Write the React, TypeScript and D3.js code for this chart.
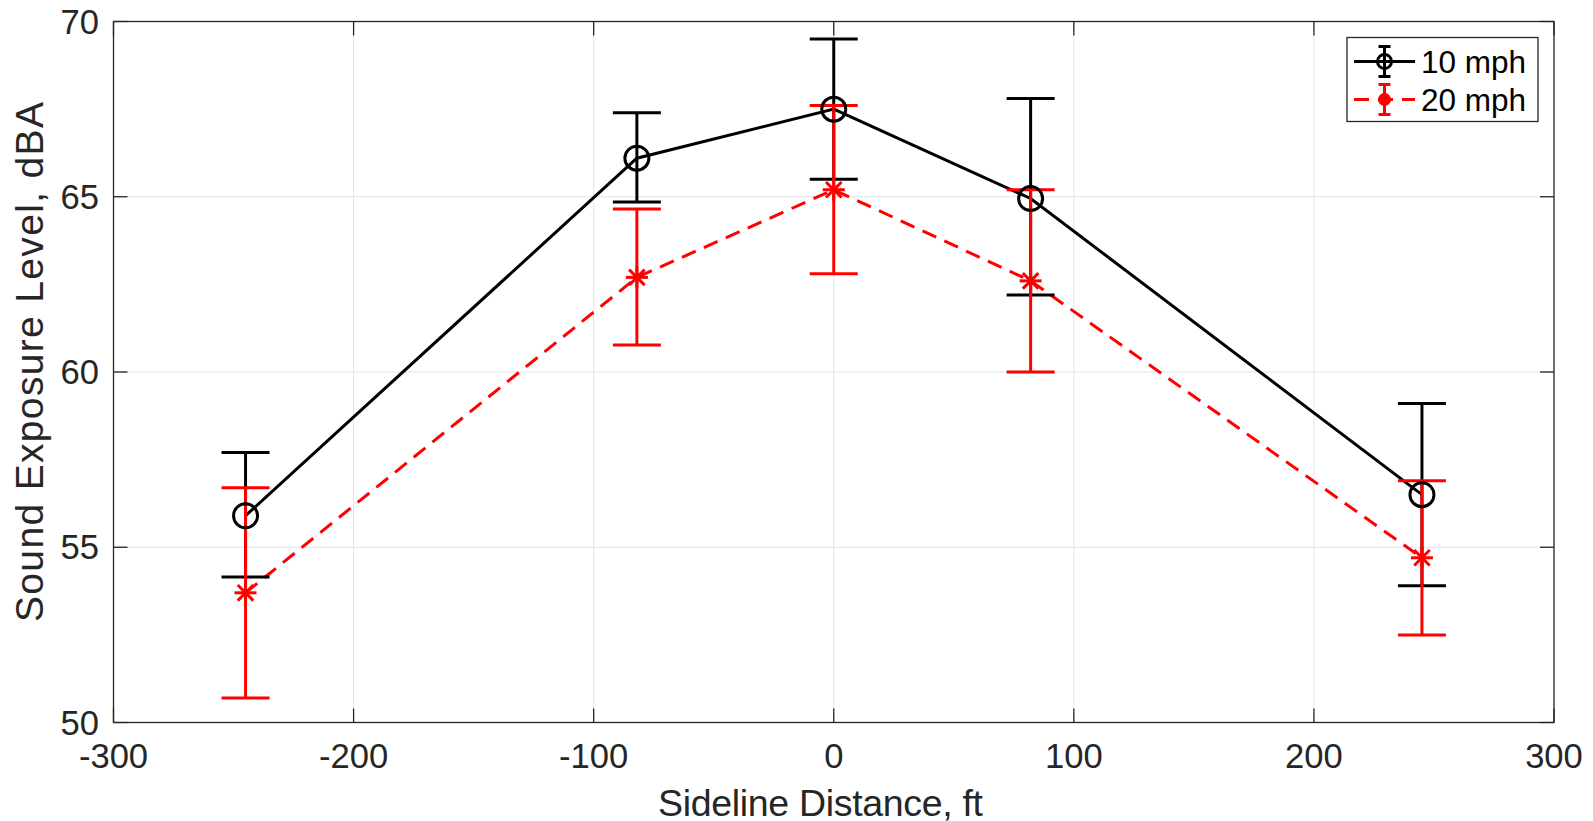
import React from "react";
import * as d3 from "d3";

const distances = [-245, -82, 0, 82, 245];
const mph10 = [55.9, 66.1, 67.5, 64.95, 56.5];
const mph10Low = [54.15, 64.85, 65.5, 62.2, 53.9];
const mph10High = [57.7, 67.4, 69.5, 67.8, 59.1];
const mph20 = [53.7, 62.7, 65.2, 62.6, 54.7];
const mph20Low = [50.7, 60.77, 62.8, 60.0, 52.5];
const mph20High = [56.7, 64.65, 67.6, 65.2, 56.9];
const xTicks = [-300, -200, -100, 0, 100, 200, 300];
const yTicks = [50, 55, 60, 65, 70];
const seriesNames = ["10 mph", "20 mph"];

const W = 1593;
const H = 821;
const L = 113.5, R = 1554, T = 21.5, B = 722.5;
const FONT = "'Liberation Sans', Arial, Helvetica, sans-serif";
const TXT = "#262626";

export default function App() {
  const x = d3.scaleLinear().domain([-300, 300]).range([L, R]);
  const y = d3.scaleLinear().domain([50, 70]).range([B, T]);
  const line = d3.line<[number, number]>().x(d => x(d[0])).y(d => y(d[1]));
  const pts10 = distances.map((d, i) => [d, mph10[i]] as [number, number]);
  const pts20 = distances.map((d, i) => [d, mph20[i]] as [number, number]);
  const cap = 24;
  const tickLen = 14;

  const errBars = (vals: number[], lo: number[], hi: number[], color: string) =>
    distances.map((d, i) => (
      <g key={i} stroke={color} strokeWidth={3} fill="none">
        <line x1={x(d)} x2={x(d)} y1={y(lo[i])} y2={y(hi[i])} />
        <line x1={x(d) - cap} x2={x(d) + cap} y1={y(lo[i])} y2={y(lo[i])} />
        <line x1={x(d) - cap} x2={x(d) + cap} y1={y(hi[i])} y2={y(hi[i])} />
      </g>
    ));

  const star = (cx: number, cy: number, s: number, key: any) => {
    const d2 = s * 0.7071;
    return (
      <g key={key} stroke="#ff0000" strokeWidth={3}>
        <line x1={cx - s} x2={cx + s} y1={cy} y2={cy} />
        <line x1={cx} x2={cx} y1={cy - s} y2={cy + s} />
        <line x1={cx - d2} x2={cx + d2} y1={cy - d2} y2={cy + d2} />
        <line x1={cx - d2} x2={cx + d2} y1={cy + d2} y2={cy - d2} />
      </g>
    );
  };

  const legX1 = 1354, legX2 = 1415, legC = 1384.5;
  const row1 = 61.5, row2 = 99.5;

  return (
    <svg width={W} height={H} style={{ position: "absolute", left: 0, top: 0, background: "#fff" }}
      fontFamily={FONT}>
      <rect x={0} y={0} width={W} height={H} fill="#fff" />
      {/* grid */}
      {xTicks.slice(1, -1).map(t => (
        <line key={"gx" + t} x1={x(t)} x2={x(t)} y1={T} y2={B} stroke="#e3e3e3" strokeWidth={1} />
      ))}
      {yTicks.slice(1, -1).map(t => (
        <line key={"gy" + t} x1={L} x2={R} y1={y(t)} y2={y(t)} stroke="#e3e3e3" strokeWidth={1} />
      ))}
      {/* ticks */}
      {xTicks.map(t => (
        <g key={"tx" + t} stroke={TXT} strokeWidth={1.3}>
          <line x1={x(t)} x2={x(t)} y1={B} y2={B - tickLen} />
          <line x1={x(t)} x2={x(t)} y1={T} y2={T + tickLen} />
        </g>
      ))}
      {yTicks.map(t => (
        <g key={"ty" + t} stroke={TXT} strokeWidth={1.3}>
          <line x1={L} x2={L + tickLen} y1={y(t)} y2={y(t)} />
          <line x1={R} x2={R - tickLen} y1={y(t)} y2={y(t)} />
        </g>
      ))}
      {/* series lines */}
      <path d={line(pts10) || ""} fill="none" stroke="#000" strokeWidth={3} />
      <path d={line(pts20) || ""} fill="none" stroke="#ff0000" strokeWidth={3} strokeDasharray="15 9" />
      {errBars(mph10, mph10Low, mph10High, "#000")}
      {errBars(mph20, mph20Low, mph20High, "#ff0000")}
      {pts10.map((p, i) => (
        <circle key={"c" + i} cx={x(p[0])} cy={y(p[1])} r={12} fill="none" stroke="#000" strokeWidth={3} />
      ))}
      {pts20.map((p, i) => star(x(p[0]), y(p[1]), 11, "s" + i))}
      {/* axes box */}
      <rect x={L} y={T} width={R - L} height={B - T} fill="none" stroke={TXT} strokeWidth={1.3} />
      {/* tick labels */}
      {xTicks.map(t => (
        <text key={"lx" + t} x={x(t)} y={768} textAnchor="middle" fontSize={34.6} fill={TXT}>{t}</text>
      ))}
      {yTicks.map(t => (
        <text key={"ly" + t} x={99} y={y(t)} dy="0.35em" textAnchor="end" fontSize={34.6} fill={TXT}>{t}</text>
      ))}
      {/* axis labels */}
      <text x={658} y={816} fontSize={37.5} fill={TXT} textLength={325} lengthAdjust="spacing">Sideline Distance, ft</text>
      <text transform={`translate(43,622) rotate(-90)`} fontSize={39} fill={TXT} textLength={520} lengthAdjust="spacing">
        Sound Exposure Level, dBA
      </text>
      {/* legend */}
      <rect x={1347} y={37.5} width={191} height={84} fill="#fff" stroke="#262626" strokeWidth={1.3} />
      <line x1={legX1} x2={legX2} y1={row1} y2={row1} stroke="#000" strokeWidth={3} />
      <g stroke="#000" strokeWidth={3}>
        <line x1={legC} x2={legC} y1={row1 - 15} y2={row1 + 15} />
        <line x1={legC - 6} x2={legC + 6} y1={row1 - 15} y2={row1 - 15} />
        <line x1={legC - 6} x2={legC + 6} y1={row1 + 15} y2={row1 + 15} />
      </g>
      <circle cx={legC} cy={row1} r={7} fill="none" stroke="#000" strokeWidth={3} />
      <line x1={legX1} x2={legX2} y1={row2} y2={row2} stroke="#ff0000" strokeWidth={3} strokeDasharray="15 9" />
      <g stroke="#ff0000" strokeWidth={3}>
        <line x1={legC} x2={legC} y1={row2 - 15} y2={row2 + 15} />
        <line x1={legC - 6} x2={legC + 6} y1={row2 - 15} y2={row2 - 15} />
        <line x1={legC - 6} x2={legC + 6} y1={row2 + 15} y2={row2 + 15} />
      </g>
      <circle cx={legC} cy={row2} r={6.5} fill="#ff0000" />
      <text x={1421} y={row1} dy="0.35em" fontSize={31.5} fill="#000">{seriesNames[0]}</text>
      <text x={1421} y={row2} dy="0.35em" fontSize={31.5} fill="#000">{seriesNames[1]}</text>
    </svg>
  );
}
